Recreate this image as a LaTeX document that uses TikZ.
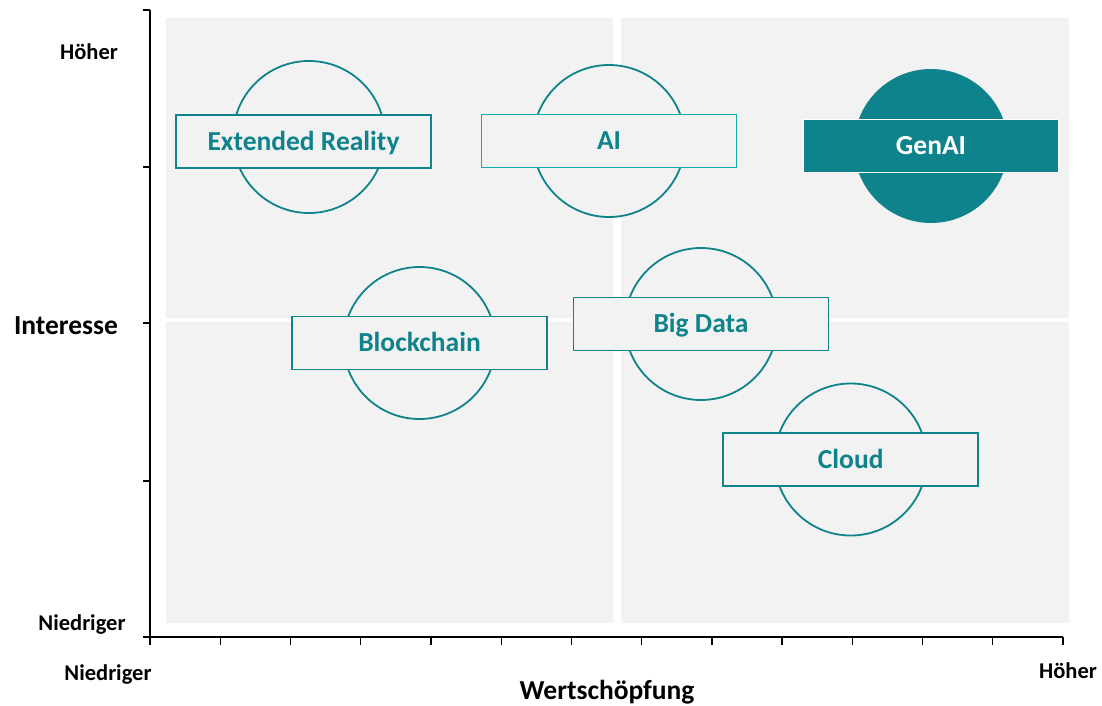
\documentclass[tikz,border=0pt]{standalone}
\usepackage{fontspec}
\setmainfont{Carlito}

\definecolor{petrol}{HTML}{0E838C}
\definecolor{lightpetrol}{HTML}{14ABAE}
\definecolor{panel}{HTML}{F2F2F2}

\begin{document}
\begin{tikzpicture}[x=1pt, y=-1pt,
		ring/.style={circle, draw=petrol, fill=panel, line width=1.8pt, minimum size=152pt, inner sep=0pt},
		tag/.style={rectangle, draw=petrol, fill=panel, line width=1.8pt, minimum width=255pt, minimum height=53pt,
			text=petrol, text height=17.5pt, text depth=0pt, font=\bfseries\fontsize{27.5}{33}\selectfont},
		small/.style={anchor=base, inner sep=0pt, font=\bfseries\fontsize{22.5}{27}\selectfont},
		big/.style={anchor=base, inner sep=0pt, font=\bfseries\fontsize{27.5}{33}\selectfont}]
			\useasboundingbox (0,0) rectangle (1102,706);
			
			% quadrants
			\fill[panel] (166,18) rectangle (613,318);
			\fill[panel] (621,18) rectangle (1069,318);
			\fill[panel] (166,322) rectangle (613,623);
			\fill[panel] (621,322) rectangle (1069,623);
			
			% axes
			\coordinate (o) at (150,637);
			\coordinate (ytop) at (150,10);
			\coordinate (xleft) at (143,637);
			\coordinate (xend) at (1063,637);
			\draw[line width=1.3pt] (ytop) -- (o);
			\draw[line width=1.8pt] (xleft) -- (xend);
			\foreach \y in {10,167,323,481}
				\draw[line width=1.3pt] (143,\y) -- (150,\y);
			\foreach \i in {0,...,13}
				\draw[line width=1.3pt] (150+70.23*\i,637) -- (150+70.23*\i,645);
			
			\node[small] (yhigh) at (89,60) {Höher};
			\node[big] (ylabel) at (66,334) {Interesse};
			\node[small] (ylow) at (82,630) {Niedriger};
			\node[small] (xlow) at (108,680) {Niedriger};
			\node[small] (xhigh) at (1068,678) {Höher};
			\node[big] (xlabel) at (607,699) {Wertschöpfung};
			
			% technologies
			\node[ring] (xrring) at (309,137) {};
			\node[tag] (xr) at (303.5,141.5) {Extended Reality};
			
			\node[ring] (airing) at (609,141) {};
			\node[tag, draw=lightpetrol] (ai) at (airing) {AI};
			
			\node[ring, draw=none, fill=petrol, minimum size=154pt] (genairing) at (931,146) {};
			\node[tag, draw=white, fill=petrol, text=white] (genai) at (genairing) {GenAI};
			
			\node[ring] (bcring) at (419.5,343) {};
			\node[tag] (bc) at (bcring) {Blockchain};
			
			\node[ring] (bdring) at (701,324) {};
			\node[tag] (bd) at (bdring) {Big Data};
			
			\node[ring] (cloudring) at (850.7,459.5) {};
			\node[tag] (cloud) at (cloudring) {Cloud};
		\end{tikzpicture}
\end{document}
